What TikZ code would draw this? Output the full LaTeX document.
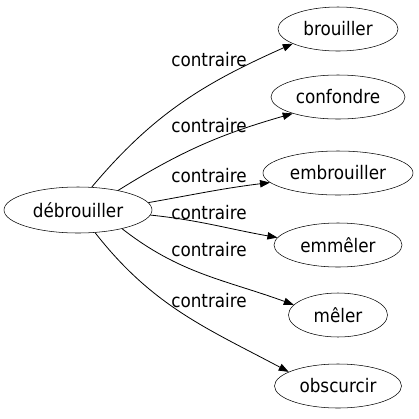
\documentclass[tikz,border=0pt]{standalone}
\usepackage{fontspec}
\setmainfont{DejaVu Sans Condensed}
\usepackage{tikz}
\usetikzlibrary{shapes.geometric,arrows.meta}
\newcommand{\px}{0.75pt}

\begin{document}
\begin{tikzpicture}[x=\px,y=-\px,
	word/.style={draw, ellipse, inner sep=0pt, minimum height=44*\px,
		font=\fontsize{14}{17}\selectfont},
	rel/.style={font=\fontsize{14}{17}\selectfont, inner sep=0pt},
	link/.style={-{Triangle[length=7.5pt,width=5.5pt]}, semithick}]
	\useasboundingbox (0,0) rectangle (419,419);

	\node[word, minimum width=148*\px, minimum height=46*\px] (debrouiller) at (78,210) {débrouiller};
	\node[word, minimum width=120*\px] (brouiller) at (338,29) {brouiller};
	\node[word, minimum width=134*\px] (confondre) at (338,97) {confondre};
	\node[word, minimum width=150*\px] (embrouiller) at (338,173) {embrouiller};
	\node[word, minimum width=128*\px] (emmeler) at (338,245) {emmêler};
	\node[word, minimum width=99*\px] (meler) at (338,315) {mêler};
	\node[word, minimum width=127*\px] (obscurcir) at (338,386) {obscurcir};

	\node[rel] (r1) at (209,60) {contraire};
	\node[rel] (r2) at (209,126) {contraire};
	\node[rel] (r3) at (209,176) {contraire};
	\node[rel] (r4) at (209,213) {contraire};
	\node[rel] (r5) at (209,250) {contraire};
	\node[rel] (r6) at (209,301) {contraire};

	\draw[link] (debrouiller.59) to[out=50,in=204] (brouiller.198);
	\draw[link] (debrouiller.26) to[out=32,in=196] (confondre.200);
	\draw[link] (debrouiller.6) to[out=10,in=187] (embrouiller.188);
	\draw[link] (debrouiller.-4) to[out=-6,in=170] (emmeler.173);
	\draw[link] (debrouiller.-23) to[out=-38,in=160] (meler.167);
	\draw[link] (debrouiller.-53) to[out=-52,in=152] (obscurcir.164);

\end{tikzpicture}
\end{document}
